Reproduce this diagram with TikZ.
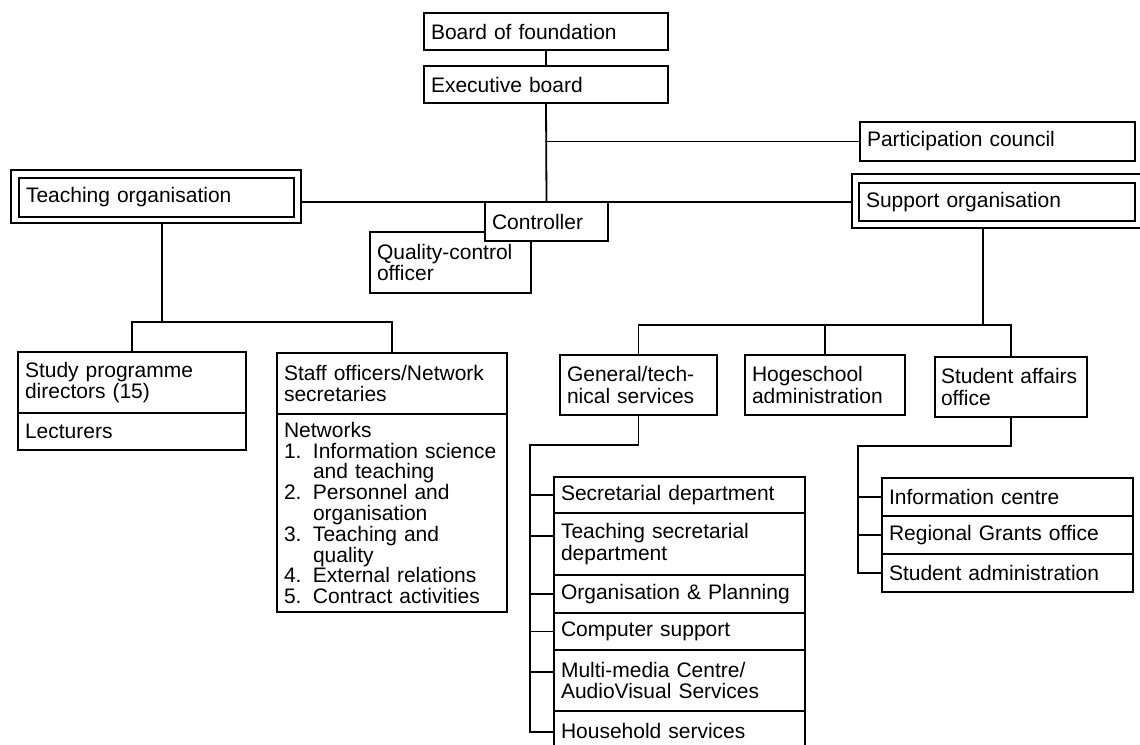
\documentclass[tikz,border=0pt]{standalone}
\usepackage{fontspec}
\setmainfont{Liberation Sans}
\begin{document}
\begin{tikzpicture}[x=1pt,y=-1pt,
  line/.style={line width=1.8pt, line cap=rect},
  box/.style={draw, line width=1.8pt, fill=white, anchor=north west,
    inner xsep=7pt, inner ysep=0pt, outer sep=0pt, align=left,
    font=\fontsize{21}{21.5}\selectfont},
  frame/.style={draw, line width=1.8pt, fill=white, anchor=north west,
    inner sep=0pt, outer sep=0pt}
  ]
\useasboundingbox (0,0) rectangle (1140,744);

% top of the hierarchy
\node[box, text width=230pt, minimum height=37pt] (board) at (424,13) {Board of foundation};
\node[box, text width=230pt, minimum height=37pt] (exec) at (424,66) {Executive board};
\node[box, text width=261pt, minimum height=39pt] (partic) at (860,122) {Participation council};

% the two organisations, drawn as double frames
\node[frame, minimum width=290pt, minimum height=53pt] (teachout) at (11,170) {};
\node[box, text width=261pt, minimum height=39pt] (teachin) at (19,178) {Teaching organisation};
\node[frame, minimum width=290pt, minimum height=54pt] (suppout) at (852,174) {};
\node[box, text width=262pt, minimum height=38pt] (suppin) at (859,183) {Support organisation};

% staff of the executive board
\node[box, text width=147pt, minimum height=61pt] (qual) at (370,232) {Quality-control\\officer};
\node[box, text width=109pt, minimum height=39pt] (ctrl) at (485,202) {Controller};

% teaching side
\node[box, text width=214pt, minimum height=61pt] (study) at (18,352) {Study programme\\directors (15)};
\node[box, text width=214pt, minimum height=37pt] (lect) at (18,413) {Lecturers};
\node[box, text width=216pt, minimum height=61pt] (staff) at (277,353) {Staff officers/Network\\secretaries};
\node[box, text width=216pt, minimum height=198pt, font=\fontsize{21}{20.8}\selectfont] (netw) at (277,414) {Networks\\
  \makebox[29pt][l]{1.}Information science\\
  \hspace*{29pt}and teaching\\
  \makebox[29pt][l]{2.}Personnel and\\
  \hspace*{29pt}organisation\\
  \makebox[29pt][l]{3.}Teaching and\\
  \hspace*{29pt}quality\\
  \makebox[29pt][l]{4.}External relations\\
  \makebox[29pt][l]{5.}Contract activities};

% support side
\node[box, text width=143pt, minimum height=60pt] (gen) at (560,355) {General/tech-\\nical services};
\node[box, text width=146pt, minimum height=60pt] (hog) at (745,355) {Hogeschool\\administration};
\node[box, inner xsep=6pt, text width=140pt, minimum height=60pt] (stud) at (935,357) {Student affairs\\office};

% general/technical services departments
\node[box, text width=237pt, minimum height=36pt] (sec) at (554,477) {Secretarial department};
\node[box, text width=237pt, minimum height=62pt] (tsec) at (554,513) {Teaching secretarial\\department};
\node[box, text width=237pt, minimum height=38pt] (org) at (554,575) {Organisation \& Planning};
\node[box, text width=237pt, minimum height=37pt] (comp) at (554,613) {Computer support};
\node[box, text width=237pt, minimum height=61pt] (mm) at (554,650) {Multi-media Centre/\\AudioVisual Services};
\node[box, text width=237pt, minimum height=40pt] (house) at (554,711) {Household services};

% student affairs departments
\node[box, text width=237pt, minimum height=38pt] (info) at (882,478) {Information centre};
\node[box, text width=237pt, minimum height=38pt] (reg) at (882,516) {Regional Grants office};
\node[box, text width=237pt, minimum height=38pt] (sadm) at (882,554) {Student administration};

% junction points of the connectors
\coordinate (tj) at (162,322);
\coordinate (sj) at (983,325);
\coordinate (gt) at (530,445);
\coordinate (st) at (858,446);

% main line
\draw[line] (board.south) -- (exec.north);
\draw[line] (exec.south) -- (ctrl.north);
\draw[line] (exec.south |- partic.west) -- (partic.west);
\draw[line] (teachout.east |- ctrl.north) -- (suppout.west |- ctrl.north);

% teaching organisation branch
\draw[line] (teachout.south -| tj) -- (tj);
\draw[line] (study.north) -- (study.north |- tj) -- (staff.north |- tj) -- (staff.north);

% support organisation branch
\draw[line] (suppout.south -| sj) -- (sj);
\draw[line] (gen.north) -- (gen.north |- sj) -- (stud.north |- sj) -- (stud.north);
\draw[line] (hog.north) -- (hog.north |- sj);

% general/technical services comb
\draw[line] (gen.south) |- (gt) -- (gt |- 0,732);
\draw[line] (gt |- sec.west) -- (sec.west);
\draw[line] (gt |- 0,536) -- (tsec.west |- 0,536);
\draw[line] (gt |- org.west) -- (org.west);
\draw[line] (gt |- comp.west) -- (comp.west);
\draw[line] (gt |- 0,672) -- (mm.west |- 0,672);
\draw[line] (gt |- 0,732) -- (house.west |- 0,732);

% student affairs comb
\draw[line] (stud.south) |- (st) -- (st |- sadm.west);
\draw[line] (st |- info.west) -- (info.west);
\draw[line] (st |- reg.west) -- (reg.west);
\draw[line] (st |- sadm.west) -- (sadm.west);
\end{tikzpicture}
\end{document}
